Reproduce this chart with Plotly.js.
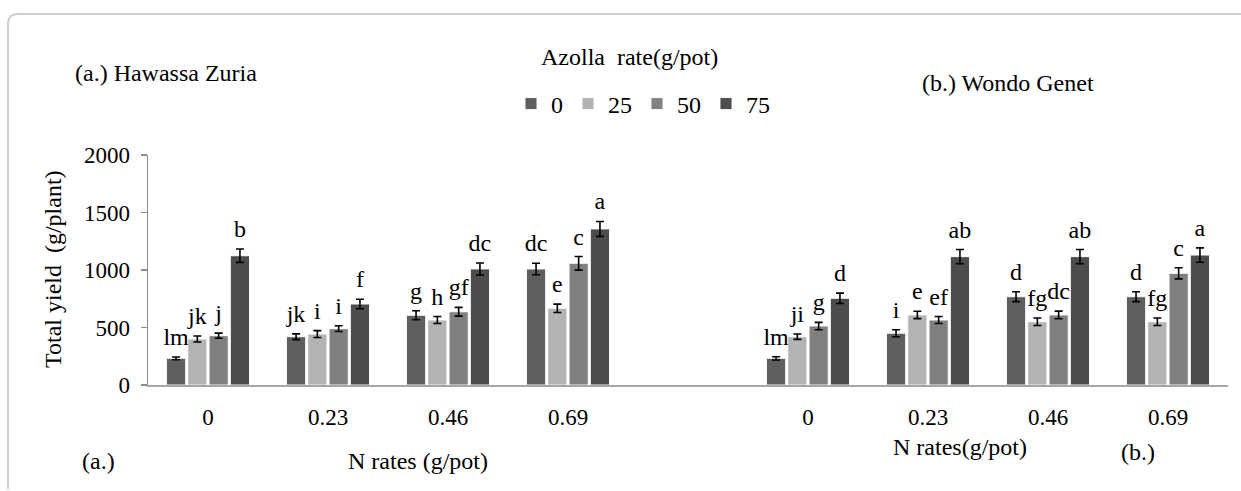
<!DOCTYPE html>
<html>
<head>
<meta charset="utf-8">
<script src="https://cdn.plot.ly/plotly-3.0.1.min.js"></script>
<style>
  html, body { margin: 0; padding: 0; background: #ffffff; }
  #wrap { position: relative; width: 1241px; height: 491px; }
  #chart { width: 1241px; height: 491px; }
  .site { position: absolute; font: 24px/24px 'Liberation Serif', 'Times New Roman', serif; color: #000000; white-space: nowrap; }
</style>
</head>
<body>
<div id="wrap">
  <div id="chart"></div>
  <div class="site" id="siteA" style="left:75px; top:61px;"></div>
  <div class="site" id="siteB" style="left:922px; top:71px;"></div>
</div>
<script>
// N application rates (g/pot) shown on the x axis of each site panel
const nRates = ['0', '0.23', '0.46', '0.69'];
// Azolla application rates (g/pot), one bar series each
const azollaRates = ['0', '25', '50', '75'];
const siteNames = ['(a.) Hawassa Zuria', '(b.) Wondo Genet'];

// Total yield (g/plant) at Hawassa Zuria, per Azolla rate, across N rates
const hawassaAz0  = [232, 420, 606, 1009];
const hawassaAz25 = [400, 443, 565, 667];
const hawassaAz50 = [429, 490, 637, 1058];
const hawassaAz75 = [1124, 704, 1009, 1357];

// Total yield (g/plant) at Wondo Genet, per Azolla rate, across N rates
const wondoAz0  = [232, 450, 768, 768];
const wondoAz25 = [420, 609, 550, 550];
const wondoAz50 = [513, 565, 609, 971];
const wondoAz75 = [754, 1116, 1116, 1130];

// Standard errors
const hawassaErr0  = [12, 25, 39, 50];
const hawassaErr25 = [26, 30, 30, 36];
const hawassaErr50 = [22, 25, 38, 59];
const hawassaErr75 = [58, 41, 52, 65];
const wondoErr0  = [14, 30, 43, 43];
const wondoErr25 = [23, 32, 33, 33];
const wondoErr50 = [32, 30, 33, 48];
const wondoErr75 = [45, 62, 62, 62];

// Mean separation letters
const hawassaLet0  = ['lm', 'jk', 'g', 'dc'];
const hawassaLet25 = ['jk', 'i', 'h', 'e'];
const hawassaLet50 = ['j', 'i', 'gf', 'c'];
const hawassaLet75 = ['b', 'f', 'dc', 'a'];
const wondoLet0  = ['lm', 'i', 'd', 'd'];
const wondoLet25 = ['ji', 'e', 'fg', 'fg'];
const wondoLet50 = ['g', 'ef', 'dc', 'c'];
const wondoLet75 = ['d', 'ab', 'ab', 'a'];

const barColors = ['#5f5f5f', '#b3b3b3', '#808080', '#4d4d4d'];

const values  = [[hawassaAz0, wondoAz0], [hawassaAz25, wondoAz25], [hawassaAz50, wondoAz50], [hawassaAz75, wondoAz75]];
const errors  = [[hawassaErr0, wondoErr0], [hawassaErr25, wondoErr25], [hawassaErr50, wondoErr50], [hawassaErr75, wondoErr75]];
const letters = [[hawassaLet0, wondoLet0], [hawassaLet25, wondoLet25], [hawassaLet50, wondoLet50], [hawassaLet75, wondoLet75]];

// Site panel headings
document.getElementById('siteA').textContent = siteNames[0];
document.getElementById('siteB').textContent = siteNames[1];

// Category slots: four N rates per site, one empty slot between the sites
const slotsPerSite = nRates.length + 1;
const positions = [];
const tickText = [];
siteNames.forEach((s, si) => {
  nRates.forEach((n, ni) => { positions.push(si * slotsPerSite + ni); tickText.push(n); });
});

const bargap = 0.29;
const barSlot = (1 - bargap) / azollaRates.length;
const serif = 'Liberation Serif';

const traces = [];
azollaRates.forEach((rate, k) => {
  const y = values[k][0].concat(values[k][1]);
  const e = errors[k][0].concat(errors[k][1]);
  traces.push({
    type: 'bar',
    name: rate,
    x: positions,
    y: y,
    marker: { color: barColors[k], line: { color: 'rgba(255,255,255,0.9)', width: 1 } },
    error_y: { type: 'data', array: e, visible: true, color: '#000000', thickness: 1.6, width: 4 },
    hoverinfo: 'y'
  });
});
// Letters above each error bar
azollaRates.forEach((rate, k) => {
  const y = values[k][0].concat(values[k][1]);
  const e = errors[k][0].concat(errors[k][1]);
  const t = letters[k][0].concat(letters[k][1]);
  const off = (k - (azollaRates.length - 1) / 2) * barSlot;
  traces.push({
    type: 'scatter',
    mode: 'markers+text',
    x: positions.map(p => p + off),
    y: y.map((v, i) => v + e[i]),
    text: t,
    textposition: 'top center',
    marker: { size: 8, opacity: 0 },
    textfont: { family: serif, size: 24, color: '#000000' },
    cliponaxis: false,
    showlegend: false,
    hoverinfo: 'skip'
  });
});

// plot area: x 148..1228 px, y 155..385 px
const px = v => (v - 148) / 1080;
const py = v => (385 - v) / 230;

const ann = (text, x, y, xanchor, extra) => Object.assign({
  text: text, xref: 'paper', yref: 'paper', x: px(x), y: py(y),
  xanchor: xanchor, yanchor: 'middle', showarrow: false,
  font: { family: serif, size: 24, color: '#000000' }
}, extra || {});

const layout = {
  width: 1241,
  height: 491,
  margin: { l: 148, r: 13, t: 155, b: 106 },
  paper_bgcolor: '#ffffff',
  plot_bgcolor: '#ffffff',
  font: { family: serif, size: 24, color: '#000000' },
  barmode: 'group',
  bargap: bargap,
  bargroupgap: 0.1,
  showlegend: true,
  legend: {
    orientation: 'h',
    x: px(511), xanchor: 'left',
    y: py(104), yanchor: 'middle',
    font: { family: serif, size: 24, color: '#000000' },
    bgcolor: 'rgba(0,0,0,0)',
    itemwidth: 30,
    traceorder: 'normal'
  },
  xaxis: {
    range: [-0.5, siteNames.length * slotsPerSite - 1.5],
    tickmode: 'array',
    tickvals: positions,
    ticktext: tickText,
    showline: true, linecolor: '#a6a6a6', linewidth: 2,
    ticks: '', showgrid: false, zeroline: false,
    ticklabelstandoff: 10,
    tickfont: { family: serif, size: 23, color: '#000000' }
  },
  yaxis: {
    range: [0, 2000], dtick: 500, tick0: 0,
    showline: true, linecolor: '#8c8c8c', linewidth: 1.5,
    ticks: 'outside', ticklen: 6, tickcolor: '#8c8c8c', tickwidth: 1.5,
    showgrid: false, zeroline: false,
    ticklabelstandoff: 6,
    tickfont: { family: serif, size: 23, color: '#000000' }
  },
  annotations: [
    ann('Azolla  rate(g/pot)', 629, 57, 'center'),
    ann('Total yield  (g/plant)', 53, 269, 'center', { textangle: -90 }),
    ann('(a.)', 80, 461, 'left'),
    ann('N rates (g/pot)', 418, 461, 'center'),
    ann('N rates(g/pot)', 960, 447, 'center'),
    ann('(b.)', 1138, 452, 'center')
  ],
  shapes: [{
    type: 'path', xref: 'paper', yref: 'paper',
    path: 'M ' + px(8) + ',' + py(489) + ' L ' + px(8) + ',' + py(24) +
          ' Q ' + px(8) + ',' + py(14) + ' ' + px(18) + ',' + py(14) +
          ' L ' + px(1250) + ',' + py(14),
    line: { color: '#cfcfcf', width: 2 }
  }]
};

Plotly.newPlot('chart', traces, layout, { displayModeBar: false, staticPlot: true });
</script>
</body>
</html>
